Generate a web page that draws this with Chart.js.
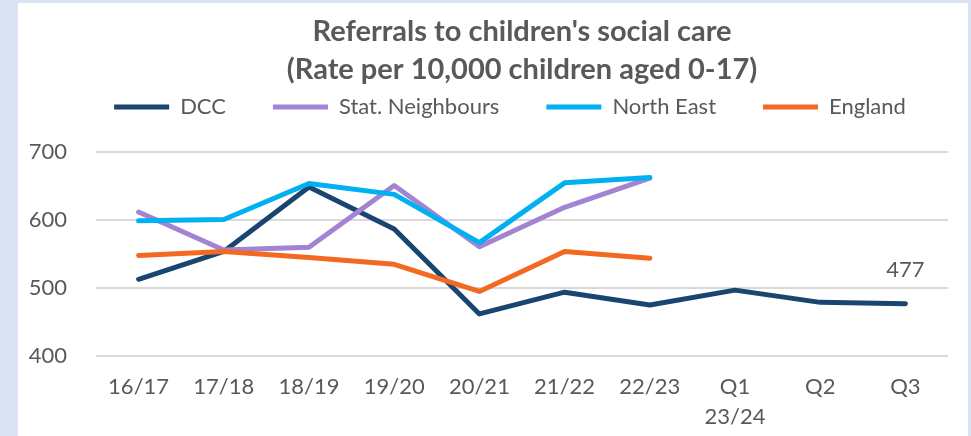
<!DOCTYPE html>
<html><head><meta charset="utf-8">
<script src="https://cdn.jsdelivr.net/npm/chart.js@4"></script>
<style>
html,body{margin:0;padding:0;background:#DAE3F3;width:971px;height:436px;overflow:hidden}
#panel{position:absolute;left:18px;top:3px;width:950px;height:433px;background:#fff}
canvas{display:block}
</style></head><body>
<div id="panel"><canvas id="c" width="950" height="433"></canvas></div>
<script>
// ---- data ----
const categories = ['16/17','17/18','18/19','19/20','20/21','21/22','22/23',['Q1','23/24'],'Q2','Q3'];
const dcc            = [513, 554, 649, 587, 462, 494, 475, 497, 479, 477];
const statNeighbours = [612, 556, 560, 651, 561, 619, 662, null, null, null];
const northEast      = [599, 601, 654, 638, 567, 655, 663, null, null, null];
const england        = [548, 554, 545, 535, 495, 554, 544, null, null, null];
const seriesNames = ['DCC', 'Stat. Neighbours', 'North East', 'England'];
const yTicks = [400, 500, 600, 700];
const titleLines = ["Referrals to children's social care", '(Rate per 10,000 children aged 0-17)'];

const colours = ['#1B4571', '#A384D2', '#00B0F0', '#F26A22'];
const TXT = '#595959';
const FONT = 'Lato';

function ds(label, data, color, order) {
  return {label, data, borderColor: color, backgroundColor: color, borderWidth: 5,
    pointRadius: 0, pointHoverRadius: 0, tension: 0, borderCapStyle: 'round',
    borderJoinStyle: 'round', fill: false, order};
}

const lastLabel = {
  id: 'lastLabel',
  afterLayout(chart) {
    // let the y tick labels use the space left of the axis box (avoid clipping)
    chart.scales.y.left = 0;
  },
  afterDatasetsDraw(chart) {
    const meta = chart.getDatasetMeta(0);
    const data = chart.data.datasets[0].data;
    let i = data.length - 1;
    while (i >= 0 && data[i] == null) i--;
    const pt = meta.data[i];
    const ctx = chart.ctx;
    ctx.save();
    ctx.font = '22px ' + FONT;
    ctx.fillStyle = TXT;
    ctx.textAlign = 'center';
    ctx.textBaseline = 'middle';
    ctx.fillText(String(data[i]), pt.x, pt.y - 34);
    ctx.restore();
  }
};

new Chart(document.getElementById('c'), {
  type: 'line',
  data: {
    labels: categories,
    datasets: [
      ds(seriesNames[0], dcc, colours[0], 3),
      ds(seriesNames[1], statNeighbours, colours[1], 2),
      ds(seriesNames[2], northEast, colours[2], 1),
      ds(seriesNames[3], england, colours[3], 0)
    ]
  },
  options: {
    responsive: false,
    animation: false,
    events: [],
    layout: {padding: {left: 34, right: 0, top: 0, bottom: 0}},
    plugins: {
      tooltip: {enabled: false},
      title: {
        display: true, text: titleLines, color: TXT, fullSize: false,
        font: {family: FONT, size: 29, weight: 'bold', lineHeight: 1.31},
        padding: {top: 10, bottom: -40}
      },
      legend: {
        display: true, position: 'top', fullSize: true,
        labels: {
          usePointStyle: true, pointStyle: 'line', pointStyleWidth: 55,
          color: TXT, padding: 47,
          font: {family: FONT, size: 22},
          sort: (a, b) => a.datasetIndex - b.datasetIndex
        }
      }
    },
    scales: {
      x: {
        type: 'category', offset: true,
        grid: {display: false, drawTicks: false},
        border: {display: false},
        ticks: {color: TXT, padding: 16, maxRotation: 0, autoSkip: false,
          font: {family: FONT, size: 22, lineHeight: 1.36}},
        afterFit(s) { s.height = 80; }
      },
      xTop: {
        type: 'linear', axis: 'x', position: 'top', display: true,
        grid: {display: false, drawTicks: false}, border: {display: false},
        ticks: {display: false},
        afterFit(s) { s.height = 24.3; }
      },
      y: {
        min: yTicks[0], max: yTicks[yTicks.length - 1],
        afterBuildTicks(s) { s.ticks = yTicks.map(v => ({value: v})); },
        grid: {color: '#D9D9D9', lineWidth: 2, drawTicks: false},
        border: {display: false},
        ticks: {color: TXT, padding: 29, font: {family: FONT, size: 22}},
        afterFit(s) { s.width = 44; }
      },
      yRight: {
        type: 'linear', axis: 'y', position: 'right', display: true,
        grid: {display: false, drawTicks: false}, border: {display: false},
        ticks: {display: false},
        afterFit(s) { s.width = 20; }
      }
    }
  },
  plugins: [lastLabel]
});
</script>
</body></html>
